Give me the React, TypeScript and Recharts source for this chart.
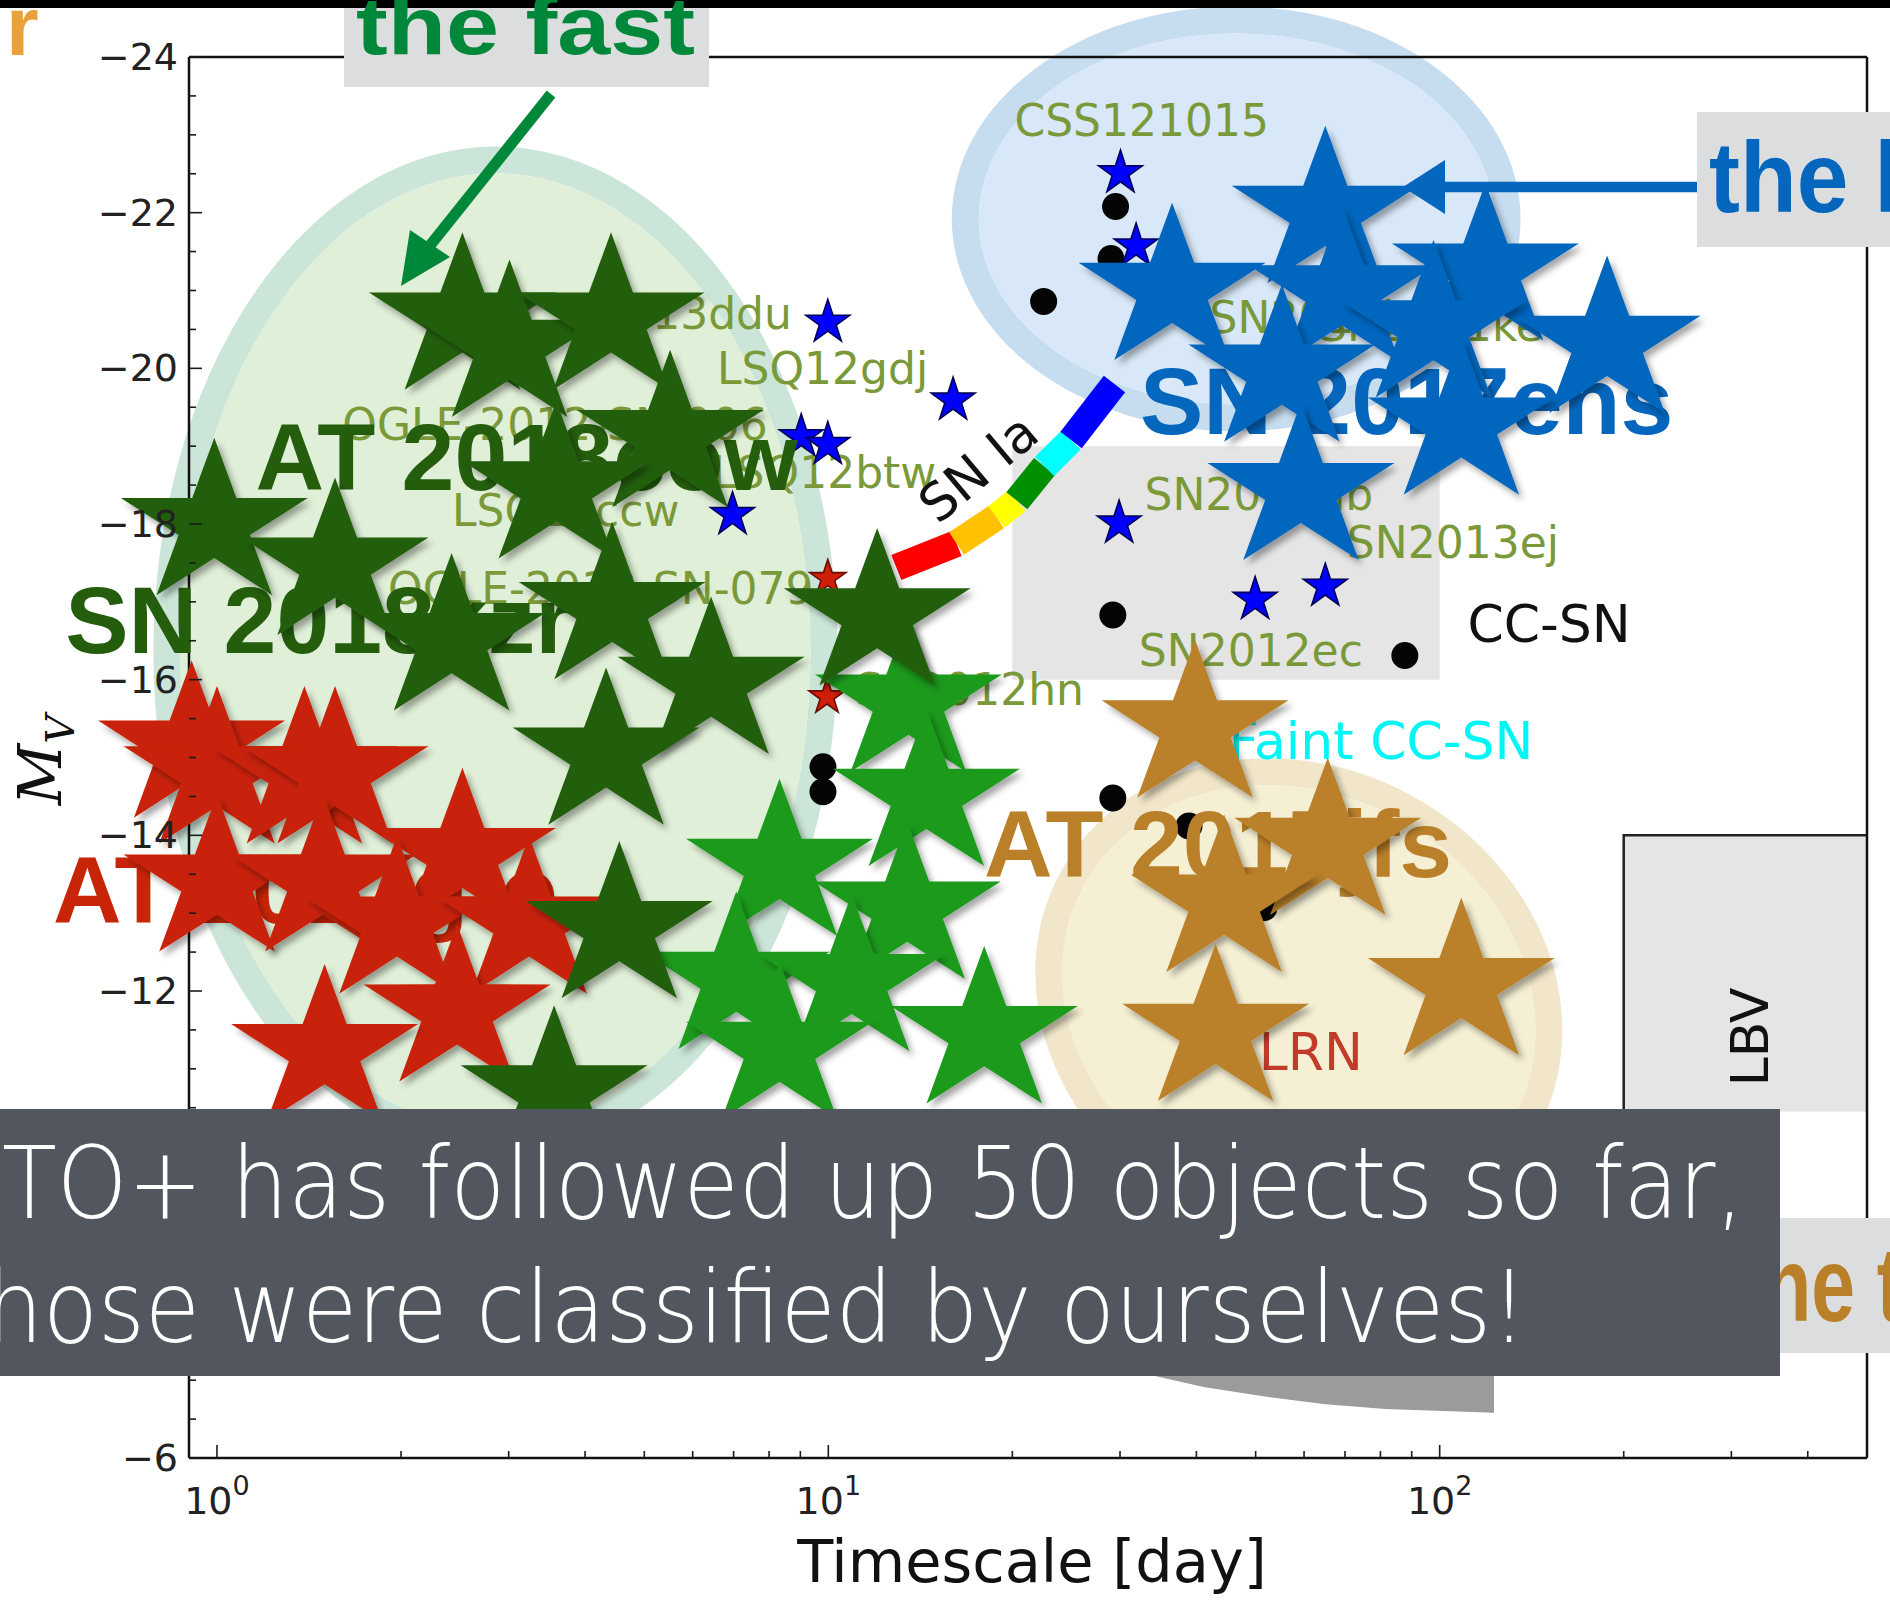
import React from 'react';
import { ComposedChart, Scatter, XAxis, YAxis, ReferenceArea } from 'recharts';

const W = 1890;
const H = 1616;

// plot box of the figure, in page pixels
const PLOT_LEFT = 189;
const PLOT_TOP = 57;
const PLOT_RIGHT = 1867;
const PLOT_BOTTOM = 1458;

const X_DOMAIN = [0.9, 500];
const Y_DOMAIN = [-24, -6];

// --- ticks ---
const xMajorTicks = [1, 10, 100];
const xMinorTicks = [2, 3, 4, 5, 6, 7, 8, 9, 20, 30, 40, 50, 60, 70, 80, 90, 200, 300, 400];
const xTickExponents = ['0', '1', '2'];
const yMajorTicks = [-24, -22, -20, -18, -16, -14, -12, -10, -8, -6];
const yMajorLabels = ['−24', '−22', '−20', '−18', '−16', '−14', '−12', '−10', '−8', '−6'];
const yMinorTicks = [
  -23.5, -23, -22.5, -21.5, -21, -20.5, -19.5, -19, -18.5, -17.5, -17, -16.5, -15.5, -15,
  -14.5, -13.5, -13, -12.5, -11.5, -11, -10.5, -9.5, -9, -8.5, -7.5, -7, -6.5,
];

// --- big ePESSTO+ objects (timescale [day], M_V) ---
const fastRisers = [
  { t: 2.52, mag: -20.63 }, { t: 3.01, mag: -20.28 }, { t: 4.41, mag: -20.63 },
  { t: 5.51, mag: -19.12 }, { t: 0.99, mag: -17.99 }, { t: 1.56, mag: -17.48 },
  { t: 3.59, mag: -18.46 }, { t: 2.42, mag: -16.51 }, { t: 4.43, mag: -16.91 },
  { t: 6.43, mag: -15.95 }, { t: 4.33, mag: -15.04 }, { t: 12.02, mag: -16.83 },
  { t: 4.55, mag: -12.81 }, { t: 3.56, mag: -10.7 },
];
const faintFast = [
  { t: 13.52, mag: -15.72 }, { t: 14.47, mag: -14.51 }, { t: 8.32, mag: -13.61 },
  { t: 13.46, mag: -13.06 }, { t: 7.07, mag: -12.16 }, { t: 10.92, mag: -12.13 },
  { t: 17.99, mag: -11.46 }, { t: 8.32, mag: -11.26 },
];
const kilonovaLike = [
  { t: 0.909, mag: -15.13 }, { t: 1.0, mag: -14.8 }, { t: 1.39, mag: -14.8 },
  { t: 1.56, mag: -14.8 }, { t: 2.52, mag: -13.75 }, { t: 1.0, mag: -13.41 },
  { t: 1.49, mag: -13.41 }, { t: 1.97, mag: -12.87 }, { t: 3.24, mag: -12.87 },
  { t: 2.47, mag: -11.74 }, { t: 1.5, mag: -11.23 },
];
const luminousSlow = [
  { t: 65.0, mag: -22.0 }, { t: 36.5, mag: -21.01 }, { t: 118.8, mag: -21.26 },
  { t: 187.9, mag: -20.33 }, { t: 69.2, mag: -20.98 }, { t: 97.7, mag: -20.53 },
  { t: 55.2, mag: -19.96 }, { t: 108.5, mag: -19.28 }, { t: 59.3, mag: -18.44 },
];
const redNovae = [
  { t: 39.8, mag: -15.39 }, { t: 65.6, mag: -13.88 }, { t: 44.4, mag: -13.15 },
  { t: 108.5, mag: -12.08 }, { t: 43.0, mag: -11.49 },
];

const bigLabels = [
  { name: 'AT 2018cow', t: 3.21, mag: -18.44 },
  { name: 'SN 2018kzr', t: 1.467, mag: -16.34 },
  { name: 'AT 2017gfo', t: 1.396, mag: -12.87 },
  { name: 'SN 2017ens', t: 88.3, mag: -19.15 },
  { name: 'AT 2017jfs', t: 43.4, mag: -13.46 },
];

// --- literature objects of the original figure ---
const litBlueStars = [
  { t: 9.98, mag: -20.59 }, { t: 16.0, mag: -19.59 }, { t: 9.03, mag: -19.12 },
  { t: 9.98, mag: -19.02 }, { t: 6.97, mag: -18.12 }, { t: 30.05, mag: -22.51 },
  { t: 31.87, mag: -21.57 }, { t: 29.9, mag: -18.01 }, { t: 49.9, mag: -17.03 },
  { t: 65.0, mag: -17.2 },
];
const litBlackDots = [
  { t: 29.5, mag: -22.08 }, { t: 29.0, mag: -21.41 }, { t: 22.5, mag: -20.86 },
  { t: 29.2, mag: -16.83 }, { t: 87.7, mag: -16.31 }, { t: 9.8, mag: -14.88 },
  { t: 9.8, mag: -14.56 }, { t: 29.2, mag: -14.48 }, { t: 38.9, mag: -14.12 },
  { t: 51.6, mag: -13.07 },
];
const litRedStars = [{ t: 9.98, mag: -17.3 }, { t: 9.95, mag: -15.78 }];

const objectLabels = [
  { name: 'CSS121015', t: 20.16, mag: -22.98 },
  { name: 'LSQ13ddu', t: 3.711, mag: -20.5 },
  { name: 'LSQ12gdj', t: 6.575, mag: -19.8 },
  { name: 'OGLE-2012-SN-006', t: 1.603, mag: -19.08 },
  { name: 'LSQ12btw', t: 6.455, mag: -18.46 },
  { name: 'LSQ13ccw', t: 2.423, mag: -17.98 },
  { name: 'OGLE-2013-SN-079', t: 1.905, mag: -16.97 },
  { name: 'SN2012hn', t: 11.07, mag: -15.67 },
  { name: 'SN2015bn', t: 42.03, mag: -20.45 },
  { name: 'SN2011ke', t: 63.5, mag: -20.35 },
  { name: 'SN2016hb', t: 32.9, mag: -18.18 },
  { name: 'SN2013ej', t: 70.5, mag: -17.56 },
  { name: 'SN2012ec', t: 32.2, mag: -16.17 },
];
const classLabels = [
  { name: 'CC-SN', t: 111.0, mag: -16.49 },
  { name: 'Faint CC-SN', t: 45.2, mag: -14.98 },
  { name: 'LRN', t: 50.6, mag: -10.98 },
  { name: 'LBV', t: 322.3, mag: -11.41 },
  { name: 'SN Ia', t: 17.6, mag: -18.72 },
];

const snIaTrack = [
  { t: 12.92, mag: -17.44 }, { t: 16.21, mag: -17.75 }, { t: 18.84, mag: -18.09 },
  { t: 20.34, mag: -18.3 }, { t: 22.58, mag: -18.74 }, { t: 24.95, mag: -19.08 },
  { t: 29.38, mag: -19.8 },
];
const snIaColors = ['#FF0000', '#FFC200', '#FFFF00', '#008F00', '#00FFFF', '#0000FF'];

const novaRegion = [
  { t: 23.95, mag: -7.7 }, { t: 33.5, mag: -7.07 }, { t: 41.3, mag: -6.91 },
  { t: 51.8, mag: -6.79 }, { t: 65.0, mag: -6.69 }, { t: 81.5, mag: -6.63 },
  { t: 122.7, mag: -6.58 }, { t: 122.7, mag: -7.7 },
];

// class regions: [t1, t2] x [mag1, mag2]
const ccsnBox = { t1: 20, t2: 100, m1: -19, m2: -16 };
const lbvBox = { t1: 200, t2: 500, m1: -14, m2: -10.45 };
const fastRegion = { t1: 0.787, t2: 10.35, m1: -22.85, m2: -9.88 };
const luminousRegion = { t1: 15.92, t2: 135.6, m1: -24.65, m2: -19.19 };
const lrnRegion = { t1: 21.19, t2: 163.3, m1: -14.88, m2: -8.85 };

const DARK_GREEN = '#245E0D';
const BRIGHT_GREEN = '#1A9A1C';
const RED = '#C82408';
const BLUE = '#0566BE';
const TAN = '#BA8029';
const OLIVE = '#7A9A3A';

const BIG_LABEL_COLORS: Record<string, string> = {
  'AT 2018cow': DARK_GREEN,
  'SN 2018kzr': DARK_GREEN,
  'AT 2017gfo': RED,
  'SN 2017ens': BLUE,
  'AT 2017jfs': TAN,
};
const CLASS_STYLE: Record<string, { color: string; rotate: number; anchor: string }> = {
  'CC-SN': { color: '#111', rotate: 0, anchor: 'start' },
  'Faint CC-SN': { color: '#00F5F5', rotate: 0, anchor: 'start' },
  LRN: { color: '#C23A2A', rotate: 0, anchor: 'start' },
  LBV: { color: '#111', rotate: -90, anchor: 'middle' },
  'SN Ia': { color: '#111', rotate: -40, anchor: 'middle' },
};

const starPath = (cx: number, cy: number, r: number, sx = 1) => {
  let d = '';
  for (let i = 0; i < 10; i++) {
    const rr = i % 2 === 0 ? r : r * 0.382;
    const a = -Math.PI / 2 + (i * Math.PI) / 5;
    d += (i ? 'L' : 'M') + (cx + sx * rr * Math.cos(a)).toFixed(1) + ',' + (cy + rr * Math.sin(a)).toFixed(1);
  }
  return d + 'Z';
};

const ellipsePath = (cx: number, cy: number, rx: number, ry: number) =>
  `M${cx - rx},${cy} a${rx},${ry} 0 1,0 ${2 * rx},0 a${rx},${ry} 0 1,0 ${-2 * rx},0 Z`;

const regionShape = (ring: string, fill: string, rot = 0) => (p: any) => {
  const cx = p.x + p.width / 2;
  const cy = p.y + p.height / 2;
  const rx = p.width / 2;
  const ry = p.height / 2;
  const band = 27;
  return (
    <g transform={`rotate(${rot} ${cx} ${cy})`}>
      <path d={ellipsePath(cx, cy, rx, ry) + ellipsePath(cx, cy, rx - band, ry - band)} fill={ring} fillRule="evenodd" />
      <path d={ellipsePath(cx, cy, rx - band, ry - band)} fill={fill} />
    </g>
  );
};

const lbvShape = (p: any) => (
  <g>
    <rect x={p.x} y={p.y} width={p.width} height={p.height} fill="#E5E5E5" />
    <path d={`M${p.x},${p.y + p.height} L${p.x},${p.y} L${p.x + p.width},${p.y}`} stroke="#222" strokeWidth={2.5} fill="none" />
  </g>
);

const bigStar = (fill: string) => (p: any) => (
  <path d={starPath(p.cx, p.cy, 87, 1.13)} fill={fill} filter="url(#starShadow)" />
);
const smallStar = (fill: string, stroke: string, r: number) => (p: any) => (
  <path d={starPath(p.cx, p.cy, r)} fill={fill} stroke={stroke} strokeWidth={1.6} />
);
const blackDot = (p: any) => <circle cx={p.cx} cy={p.cy} r={13.5} fill="#050505" />;
const noMark = () => <g />;

const objectLabelShape = (p: any) => (
  <text x={p.cx} y={p.cy} fontFamily="DejaVu Sans" fontSize={44} fill={OLIVE}>
    {p.payload.name}
  </text>
);
const classLabelShape = (p: any) => {
  const s = CLASS_STYLE[p.payload.name];
  return (
    <text
      x={p.cx}
      y={p.cy}
      transform={s.rotate ? `rotate(${s.rotate} ${p.cx} ${p.cy})` : undefined}
      textAnchor={s.anchor}
      dominantBaseline={s.rotate ? 'central' : 'auto'}
      fontFamily="DejaVu Sans"
      fontSize={52}
      fill={s.color}
    >
      {p.payload.name}
    </text>
  );
};
const bigLabelShape = (p: any) => (
  <text
    x={p.cx}
    y={p.cy}
    textAnchor="middle"
    fontFamily="'Liberation Sans', Arial, sans-serif"
    fontWeight="bold"
    fontSize={95}
    fill={BIG_LABEL_COLORS[p.payload.name]}
  >
    {p.payload.name}
  </text>
);

const TICK = '#1a1a1a';
const BottomTick = (p: any) => {
  const i = xMajorTicks.indexOf(p.payload.value);
  return (
    <g>
      <line x1={p.x} x2={p.x} y1={p.y} y2={p.y - (i >= 0 ? 13 : 7)} stroke={TICK} strokeWidth={1.6} />
      {i >= 0 && (
        <text x={p.x} y={p.y + 56} textAnchor="middle" fontFamily="DejaVu Sans" fontSize={38} fill="#222">
          10<tspan dy={-19} fontSize={27}>{xTickExponents[i]}</tspan>
        </text>
      )}
    </g>
  );
};
const TopTick = (p: any) => {
  const major = xMajorTicks.includes(p.payload.value);
  return <line x1={p.x} x2={p.x} y1={p.y} y2={p.y + (major ? 13 : 7)} stroke={TICK} strokeWidth={1.6} />;
};
const LeftTick = (p: any) => {
  const i = yMajorTicks.indexOf(p.payload.value);
  return (
    <g>
      <line x1={p.x} x2={p.x + (i >= 0 ? 13 : 7)} y1={p.y} y2={p.y} stroke={TICK} strokeWidth={1.6} />
      {i >= 0 && (
        <text x={p.x - 11} y={p.y + 13} textAnchor="end" fontFamily="DejaVu Sans" fontSize={38} fill="#222">
          {yMajorLabels[i]}
        </text>
      )}
    </g>
  );
};
const RightTick = (p: any) => {
  const major = yMajorTicks.includes(p.payload.value);
  return <line x1={p.x} x2={p.x - (major ? 13 : 7)} y1={p.y} y2={p.y} stroke={TICK} strokeWidth={1.6} />;
};

const xTicks = [...xMajorTicks, ...xMinorTicks];
const yTicks = [...yMajorTicks, ...yMinorTicks];
const spine = { stroke: '#111', strokeWidth: 2.5 };

const SlideOverlay = () => (
  <svg width={W} height={H} style={{ position: 'absolute', left: 0, top: 0, pointerEvents: 'none' }}>
    {/* axis titles */}
    <text x={1032} y={1582} textAnchor="middle" fontFamily="DejaVu Sans" fontSize={59} fill="#111">
      Timescale [day]
    </text>
    <text x={61} y={760} transform="rotate(-90 61 760)" textAnchor="middle" fontFamily="'DejaVu Serif', serif" fontStyle="italic" fontSize={60} fill="#111">
      M<tspan dy={13} fontSize={40}>V</tspan>
    </text>

    {/* top strip and cut-off title letter */}
    <text x={6} y={55} fontFamily="'Liberation Sans', Arial, sans-serif" fontWeight="bold" fontSize={84} fill="#E9A23B">r</text>
    <rect x={0} y={0} width={W} height={8} fill="#000" />

    {/* "the fast" callout */}
    <rect x={344} y={8} width={365} height={79} fill="#DCDDDF" />
    <text x={356} y={54} fontFamily="'Liberation Sans', Arial, sans-serif" fontWeight="bold" fontSize={82} fill="#00883A" textLength={339} lengthAdjust="spacingAndGlyphs">
      the fast
    </text>
    <line x1={551} y1={94} x2={428} y2={248} stroke="#00883A" strokeWidth={11} />
    <polygon points="401,286 410,230 450,257" fill="#00883A" />

    {/* "the l..." callout */}
    <rect x={1697} y={112} width={193} height={135} fill="#DCDDDF" />
    <text x={1709} y={212} fontFamily="'Liberation Sans', Arial, sans-serif" fontWeight="bold" fontSize={100} fill={BLUE} textLength={191} lengthAdjust="spacingAndGlyphs">
      the l
    </text>
    <line x1={1443} y1={187} x2={1697} y2={187} stroke={BLUE} strokeWidth={10.7} />
    <polygon points="1403,187 1445,160 1445,214" fill={BLUE} />

    {/* bottom-right callout, partly hidden */}
    <rect x={1700} y={1218} width={190} height={135} fill="#DCDDDF" />
    <text x={1737} y={1321} fontFamily="'Liberation Sans', Arial, sans-serif" fontWeight="bold" fontSize={105} fill={TAN} textLength={166} lengthAdjust="spacingAndGlyphs">
      the t
    </text>

    {/* dark caption box */}
    <rect x={0} y={1109} width={1780} height={267} fill="#52575F" />
    <text x={2} y={1218} fontFamily="'DejaVu Sans'" fontWeight={200} fontSize={100} fill="#fff" textLength={1742} lengthAdjust="spacingAndGlyphs">
      TO+ has followed up 50 objects so far,
    </text>
    <text x={-14} y={1342} fontFamily="'DejaVu Sans'" fontWeight={200} fontSize={100} fill="#fff" textLength={1541} lengthAdjust="spacingAndGlyphs">
      hose were classified by ourselves!
    </text>
  </svg>
);

export default function App() {
  return (
    <div style={{ position: 'absolute', left: 0, top: 0, width: W, height: H, background: '#fff', overflow: 'hidden' }}>
      <ComposedChart
        width={W}
        height={H}
        margin={{ top: PLOT_TOP - 1, right: W - PLOT_RIGHT - 1, bottom: H - PLOT_BOTTOM - 60, left: PLOT_LEFT - 80 }}
      >
        <defs>
          <filter id="starShadow" x="-30%" y="-30%" width="170%" height="170%">
            <feDropShadow dx="4" dy="5" stdDeviation="3" floodColor="#000" floodOpacity="0.35" />
          </filter>
        </defs>

        <XAxis dataKey="t" type="number" scale="log" domain={X_DOMAIN} ticks={xTicks} interval={0}
          tickSize={0} tickMargin={0} tickLine={false} axisLine={spine} height={60} tick={BottomTick} />
        <XAxis xAxisId="top" orientation="top" type="number" scale="log" domain={X_DOMAIN} ticks={xTicks} interval={0}
          tickSize={0} tickMargin={0} tickLine={false} axisLine={spine} height={1} tick={TopTick} />
        <YAxis dataKey="mag" type="number" domain={Y_DOMAIN} reversed ticks={yTicks} interval={0}
          tickSize={0} tickMargin={0} tickLine={false} axisLine={spine} width={80} tick={LeftTick} />
        <YAxis yAxisId="right" orientation="right" type="number" domain={Y_DOMAIN} reversed ticks={yTicks} interval={0}
          tickSize={0} tickMargin={0} tickLine={false} axisLine={spine} width={1} tick={RightTick} />

        {/* class boxes */}
        <ReferenceArea x1={ccsnBox.t1} x2={ccsnBox.t2} y1={ccsnBox.m1} y2={ccsnBox.m2} fill="#E5E5E5" fillOpacity={1} stroke="none" ifOverflow="visible" zIndex={100} />
        <ReferenceArea x1={lbvBox.t1} x2={lbvBox.t2} y1={lbvBox.m1} y2={lbvBox.m2} shape={lbvShape} ifOverflow="visible" zIndex={101} />

        {/* highlighted regions */}
        <ReferenceArea x1={fastRegion.t1} x2={fastRegion.t2} y1={fastRegion.m1} y2={fastRegion.m2} shape={regionShape('#CBE6D8', '#E0EFD8')} ifOverflow="visible" zIndex={110} />
        <ReferenceArea x1={luminousRegion.t1} x2={luminousRegion.t2} y1={luminousRegion.m1} y2={luminousRegion.m2} shape={regionShape('#C6DCEF', '#D8E8F8')} ifOverflow="visible" zIndex={111} />
        <ReferenceArea x1={lrnRegion.t1} x2={lrnRegion.t2} y1={lrnRegion.m1} y2={lrnRegion.m2} shape={regionShape('#F1E6C9', '#F5EFD3', 28)} ifOverflow="visible" zIndex={112} />

        {/* nova region */}
        <Scatter data={novaRegion} line={{ fill: '#9B9B9B', stroke: 'none' }} shape={noMark} isAnimationActive={false} zIndex={120} />

        {/* SN Ia colour track */}
        {snIaColors.map((c, i) => (
          <Scatter key={c} data={[snIaTrack[i], snIaTrack[i + 1]]} line={{ stroke: c, strokeWidth: 27 }} shape={noMark} isAnimationActive={false} zIndex={130} />
        ))}

        {/* labels of the original figure */}
        <Scatter data={objectLabels} shape={objectLabelShape} isAnimationActive={false} zIndex={140} />
        <Scatter data={classLabels} shape={classLabelShape} isAnimationActive={false} zIndex={141} />

        {/* literature objects */}
        <Scatter data={litBlackDots} shape={blackDot} isAnimationActive={false} zIndex={150} />
        <Scatter data={litBlueStars} shape={smallStar('#0000FF', '#00005A', 23)} isAnimationActive={false} zIndex={151} />
        <Scatter data={litRedStars} shape={smallStar('#D01E08', '#6A0E02', 19)} isAnimationActive={false} zIndex={152} />

        {/* object names under the big markers */}
        <Scatter data={bigLabels} shape={bigLabelShape} isAnimationActive={false} zIndex={700} />

        {/* ePESSTO+ objects */}
        <Scatter data={kilonovaLike} shape={bigStar(RED)} isAnimationActive={false} zIndex={800} />
        <Scatter data={faintFast} shape={bigStar(BRIGHT_GREEN)} isAnimationActive={false} zIndex={801} />
        <Scatter data={fastRisers} shape={bigStar(DARK_GREEN)} isAnimationActive={false} zIndex={802} />
        <Scatter data={luminousSlow} shape={bigStar(BLUE)} isAnimationActive={false} zIndex={803} />
        <Scatter data={redNovae} shape={bigStar(TAN)} isAnimationActive={false} zIndex={804} />
      </ComposedChart>
      <SlideOverlay />
    </div>
  );
}
